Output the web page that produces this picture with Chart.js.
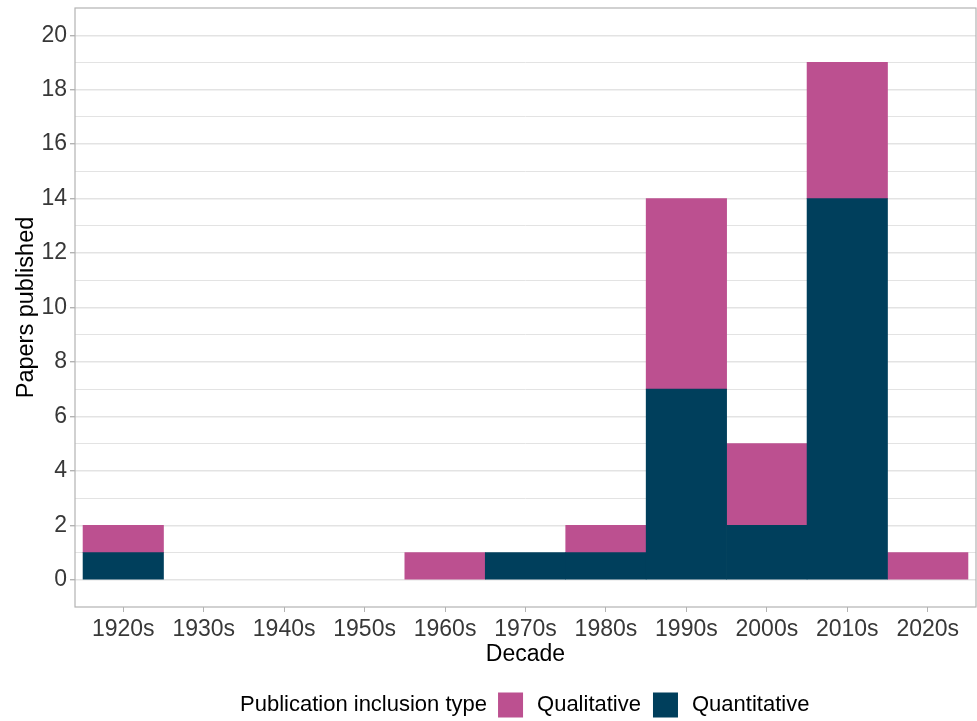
<!DOCTYPE html>
<html>
<head>
<meta charset="utf-8">
<script src="https://cdn.jsdelivr.net/npm/chart.js@4"></script>
<style>
  body{margin:0;background:#fff;}
  .wrap{width:977px;height:721px;position:relative;}
</style>
</head>
<body>
<div class="wrap"><canvas id="chart"></canvas></div>
<script>
// data
const decades=['1920s','1930s','1940s','1950s','1960s','1970s','1980s','1990s','2000s','2010s','2020s'];
const quantitative=[1,0,0,0,0,1,1,7,2,14,0];
const qualitative=[1,0,0,0,1,0,1,7,3,5,1];
const yTicks=[0,2,4,6,8,10,12,14,16,18,20];

const font='"Liberation Sans", Arial, sans-serif';
const pink='#bc5090', navy='#003f5c';
const tickTxt='#383838';

// panel border + legend row (title then keys inline)
const panelAndLegend={
  id:'panelAndLegend',
  afterDatasetsDraw(chart){
    const {ctx,chartArea:a}=chart;
    ctx.save();
    ctx.strokeStyle='#b3b3b3';
    ctx.lineWidth=1.2;
    ctx.strokeRect(a.left,a.top,a.right-a.left,a.bottom-a.top);
    ctx.restore();
  },
  afterDraw(chart){
    const ctx=chart.ctx;
    const items=[{label:'Qualitative',color:pink},{label:'Quantitative',color:navy}];
    ctx.save();
    ctx.font='22px '+font;
    ctx.textBaseline='middle';
    ctx.fillStyle='#000';
    const y=705;
    let x=240;
    ctx.fillText('Publication inclusion type',x,y);
    x+=ctx.measureText('Publication inclusion type').width+11;
    items.forEach(it=>{
      ctx.fillStyle=it.color;
      ctx.fillRect(x,y-12.5,25,25);
      x+=25+14;
      ctx.fillStyle='#000';
      ctx.fillText(it.label,x,y);
      x+=ctx.measureText(it.label).width+12;
    });
    ctx.restore();
  }
};

const ctx=document.getElementById('chart').getContext('2d');
new Chart(ctx,{
  type:'bar',
  data:{
    datasets:[
      {label:'Quantitative',data:quantitative.map((v,i)=>({x:i,y:v||null})),backgroundColor:navy,borderWidth:0},
      {label:'Qualitative',data:qualitative.map((v,i)=>({x:i,y:v||null})),backgroundColor:pink,borderWidth:0}
    ]
  },
  options:{
    responsive:true,
    maintainAspectRatio:false,
    animation:false,
    barPercentage:1,
    categoryPercentage:1,
    layout:{padding:{top:8,right:1,bottom:50,left:0}},
    plugins:{legend:{display:false},tooltip:{enabled:false}},
    scales:{
      x:{
        type:'linear',
        stacked:true,
        offset:false,
        min:-0.6,max:10.6,
        afterFit(s){s.height=64;s.paddingLeft=0;s.paddingRight=0;},
        afterBuildTicks(s){s.ticks=decades.map((d,i)=>({value:i}));},
        ticks:{
          autoSkip:false,maxRotation:0,padding:4,
          color:tickTxt,font:{family:font,size:23},
          callback:(v)=>decades[v]
        },
        grid:{offset:false,drawOnChartArea:false,drawTicks:true,tickLength:5,tickColor:'#b3b3b3'},
        border:{display:false},
        title:{display:true,text:'Decade',color:'#000',font:{family:font,size:23},padding:{top:0,bottom:3}}
      },
      y:{
        stacked:true,
        min:-1,max:21,
        afterFit(s){s.width=75;s.paddingTop=0;s.paddingBottom=0;},
        afterBuildTicks(s){
          const t=[];
          for(let v=0;v<=20;v++)t.push({value:v});
          s.ticks=t;
        },
        ticks:{
          autoSkip:false,padding:3,
          color:tickTxt,font:{family:font,size:23},
          callback:(v)=>yTicks.includes(v)?String(v):''
        },
        grid:{
          color:'#e3e3e3',
          lineWidth:(c)=>yTicks.includes(c.tick.value)?1.4:1,
          tickLength:5,
          tickColor:(c)=>yTicks.includes(c.tick.value)?'#b3b3b3':'rgba(0,0,0,0)'
        },
        border:{display:false},
        title:{display:true,text:'Papers published',color:'#000',font:{family:font,size:23.5},padding:{top:12,bottom:0}}
      }
    }
  },
  plugins:[panelAndLegend]
});
</script>
</body>
</html>
